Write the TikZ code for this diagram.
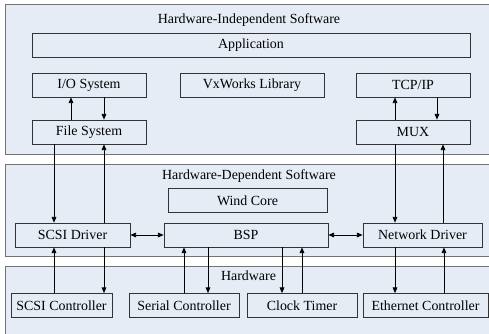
\documentclass[tikz,border=0pt]{standalone}
\usepackage{fontspec}
\setmainfont{Liberation Serif}
\usetikzlibrary{positioning,arrows.meta}
\definecolor{layerfill}{RGB}{230,236,246}
\definecolor{edgegray}{RGB}{115,115,115}
\tikzset{
  flow/.style={-{Triangle[length=1.7mm, width=1.4mm]}, semithick},
  twoway/.style={{Triangle[length=1.7mm, width=1.4mm]}-{Triangle[length=1.7mm, width=1.4mm]}, semithick},
  layer/.style={draw=edgegray, line width=0.8pt, fill=layerfill, anchor=north west, inner sep=0pt, minimum width=14.7cm},
  modbox/.style={draw=black!80, fill=layerfill, semithick, minimum height=0.72cm, inner sep=1pt, align=center},
  layertitle/.style={inner sep=1pt}
}

\begin{document}
\begin{tikzpicture}[x=0.03cm, y=-0.03cm, every node/.style={font=\fontsize{11.9}{14}\selectfont}]
  \clip (0,0) rectangle (489,333);
  % layers
  \node[layer, minimum height=4.5cm] (indep) at (5,4) {};
  \node[layer, minimum height=2.76cm] (dep) at (5,164) {};
  \node[layer, minimum height=2.3cm] (hw) at (5,266) {};
  \node[layertitle] (indeptitle) at (249,20) {Hardware-Independent Software};
  \node[layertitle] (deptitle) at (249,176) {Hardware-Dependent Software};
  \node[layertitle] (hwtitle) at (248.5,275.5) {Hardware};

  % software modules
  \node[modbox, minimum width=13.14cm] (app) at (251,45) {Application};
  \node[modbox, minimum width=3.42cm] (io) at (89,85) {I/O System};
  \node[modbox, minimum width=4.32cm] (vx) at (252,85) {VxWorks Library};
  \node[modbox, minimum width=3.42cm] (tcp) at (413,85) {TCP/IP};
  \node[modbox, minimum width=3.42cm] (fs) at (89,132) {File System};
  \node[modbox, minimum width=3.42cm] (mux) at (413,132) {MUX};

  % drivers
  \node[modbox, minimum width=4.77cm] (wind) at (247.5,200.5) {Wind Core};
  \node[modbox, minimum width=3.45cm] (scsidrv) at (72.5,235) {SCSI Driver};
  \node[modbox, minimum width=4.92cm] (bsp) at (246,235) {BSP};
  \node[modbox, minimum width=3.57cm] (netdrv) at (422.5,235) {Network Driver};

  % devices
  \node[modbox, minimum width=3.03cm] (scsictl) at (61.5,305.5) {SCSI Controller};
  \node[modbox, minimum width=3.3cm] (serial) at (184,305.5) {Serial Controller};
  \node[modbox, minimum width=3.3cm] (clock) at (302,305.5) {Clock Timer};
  \node[modbox, minimum width=3.75cm] (eth) at (425.5,305.5) {Ethernet Controller};

  % connectors
  \draw[flow] (fs.north -| 71,0) -- (io.south -| 71,0);
  \draw[flow] (io.south -| 104,0) -- (fs.north -| 104,0);
  \draw[flow] (mux.north -| 395,0) -- (tcp.south -| 395,0);
  \draw[flow] (tcp.south -| 437,0) -- (mux.north -| 437,0);
  \draw[flow] (fs.south -| 54,0) -- (scsidrv.north -| 54,0);
  \draw[flow] (scsidrv.north -| 104,0) -- (fs.south -| 104,0);
  \draw[flow] (mux.south -| 395,0) -- (netdrv.north -| 395,0);
  \draw[flow] (netdrv.north -| 443,0) -- (mux.south -| 443,0);
  \draw[twoway] (scsidrv) -- (bsp);
  \draw[twoway] (bsp) -- (netdrv);
  \draw[flow] (scsictl.north -| 54,0) -- (scsidrv.south -| 54,0);
  \draw[flow] (scsidrv.south -| 104,0) -- (scsictl.north -| 104,0);
  \draw[flow] (serial.north -| 184,0) -- (bsp.south -| 184,0);
  \draw[flow] (bsp.south -| 208,0) -- (serial.north -| 208,0);
  \draw[flow] (bsp.south -| 282,0) -- (clock.north -| 282,0);
  \draw[flow] (clock.north -| 302,0) -- (bsp.south -| 302,0);
  \draw[flow] (netdrv.south -| 395,0) -- (eth.north -| 395,0);
  \draw[flow] (eth.north -| 444,0) -- (netdrv.south -| 444,0);
\end{tikzpicture}
\end{document}
